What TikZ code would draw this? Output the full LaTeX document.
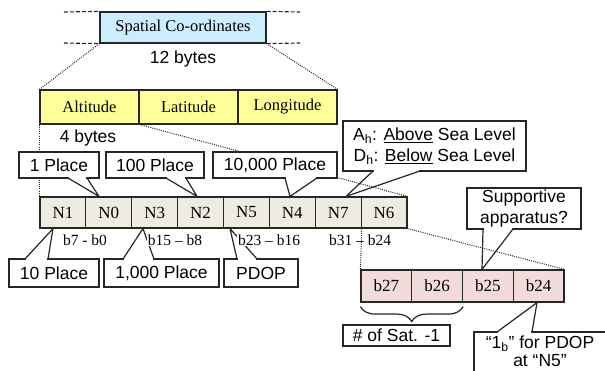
\documentclass[tikz,border=0pt]{standalone}
\usepackage{fontspec}
\setmainfont{Liberation Serif}
\newfontfamily\arialf{Liberation Sans}
\usetikzlibrary{decorations.pathreplacing,calc}
\definecolor{cblue}{HTML}{CCECFF}
\definecolor{cyel}{HTML}{FFFF99}
\definecolor{cgray}{HTML}{EEECE1}
\definecolor{cpink}{HTML}{F2DCDB}
\definecolor{cline}{HTML}{262626}
\newcommand\ctail[4]{% xL, xR, ybase, tip
  \fill[white] (#1+0.7,#3-1.1) rectangle (#2-0.7,#3+1.1);
  \draw[tailline] (#1,#3) -- (#4) -- (#2,#3);}
\begin{document}
\begin{tikzpicture}[x=1pt,y=-1pt,
  cellbase/.style={draw=cline, line width=1.2pt, inner sep=0pt},
  bluecell/.style={cellbase, fill=cblue, minimum width=166pt, minimum height=31pt, font=\fontsize{16.5}{18}\selectfont},
  yelcell/.style={cellbase, fill=cyel, minimum width=99pt, minimum height=34pt, font=\fontsize{16.5}{18}\selectfont},
  graycell/.style={cellbase, fill=cgray, minimum width=45.875pt, minimum height=31pt, font=\fontsize{17}{18}\selectfont},
  pinkcell/.style={cellbase, fill=cpink, minimum width=50.75pt, minimum height=32pt, font=\fontsize{17}{18}\selectfont},
  callout/.style={draw=cline, line width=1.2pt, fill=white, inner sep=0pt, align=center, font=\arialf\fontsize{17.5}{21}\selectfont},
  tailline/.style={draw=cline, line width=1.2pt, line join=miter},
  bytes/.style={inner sep=0pt, font=\arialf\fontsize{17.5}{21}\selectfont},
  blabel/.style={inner sep=1pt, fill=white, font=\fontsize{15.5}{18}\selectfont},
  dotline/.style={draw=cline, line width=1pt, dash pattern=on 1pt off 1.2pt},
  dashline/.style={draw=cline, line width=1.1pt, dash pattern=on 4pt off 2pt}]
\clip (0,0) rectangle (605,371);
\fill[white] (0,0) rectangle (605,371);

\coordinate (dl1) at (64,12);
\coordinate (dl2) at (64,43);
\coordinate (dr1) at (300,12);
\coordinate (dr2) at (300,43);

% top box
\node[bluecell] (spatial) at (183,27.5) {Spatial Co-ordinates};
\draw[dashline] (dl1) -- (spatial.north west);
\draw[dashline] (dl2) -- (spatial.south west);
\draw[dashline] (spatial.north east) -- (dr1);
\draw[dashline] (spatial.south east) -- (dr2);
\node[bytes] (b12) at (183,59) {12 bytes};

% yellow row
\node[yelcell] (alt) at (89.5,107) {Altitude};
\node[yelcell] (lat) at (188.5,107) {Latitude};
\node[yelcell] (lon) at (287.5,107) {Longitude};
\node[bytes] (b4) at (88,138) {4 bytes};

% gray row
\foreach \t [count=\i from 0] in {N1,N0,N3,N2,N5,N4,N7,N6}
  \node[graycell] (\t) at ({40+45.875*(\i+0.5)},212.5) {\t};

% pink row
\foreach \t [count=\i from 0] in {b27,b26,b25,b24}
  \node[pinkcell] (\t) at ({361+50.75*(\i+0.5)},286) {\t};

% dotted lines
\draw[dotline] (spatial.south west) -- (alt.north west);
\draw[dotline] (spatial.south east) -- (lon.north east);
\draw[dotline] (alt.south west) -- (N1.north west);
\draw[dotline] (alt.south east) -- (N6.north east);
\draw[dotline] (N6.south east) -- (b24.north east);

% top callouts
\node[callout, minimum width=80pt, minimum height=26pt] (p1) at (59,165) {1 Place};
\coordinate (t1) at (99,196.4);
\ctail{68}{87}{178}{t1}
\node[callout, minimum width=98pt, minimum height=26pt] (p100) at (155,165) {100 Place};
\coordinate (t100) at (197,196.4);
\ctail{166}{186}{178}{t100}
\node[callout, minimum width=124pt, minimum height=26pt] (p10000) at (275,165) {10,000 Place};
\coordinate (t10000) at (290,196.4);
\ctail{285}{317}{178}{t10000}
\node[callout, minimum width=183pt, minimum height=50pt] (ah) at (434.5,146)
  {A\textsubscript{h}: \underline{Above} Sea Level\\D\textsubscript{h}: \underline{Below} Sea Level};
\coordinate (tah) at (346,196.4);
\ctail{373}{420}{171}{tah}

% supportive
\node[callout, minimum width=114pt, minimum height=41pt] (sup) at (524,208.5) {Supportive\\apparatus?};
\coordinate (tsup) at (482,269.4);
\ctail{483}{513}{229}{tsup}

% bottom callouts
\node[callout, minimum width=90pt, minimum height=28pt] (p10) at (54,273) {10 Place};
\coordinate (t10) at (53,228.6);
\ctail{25}{48}{259}{t10}
\node[callout, minimum width=115pt, minimum height=28pt] (p1000) at (161.5,273) {1,000 Place};
\coordinate (t1000) at (143,228.6);
\ctail{123}{154}{259}{t1000}
\node[callout, minimum width=74pt, minimum height=28pt] (pdop) at (261,273) {PDOP};
\coordinate (tpdop) at (230,228.6);
\ctail{237}{257}{259}{tpdop}

% bit labels
\node[blabel] (l0) at (85,240) {b7 - b0};
\node[blabel] (l1) at (175,240) {b15 -- b8};
\node[blabel] (l2) at (269,240) {b23 -- b16};
\node[inner sep=1pt, font=\fontsize{15.5}{18}\selectfont] (l3) at (360,240) {b31 -- b24};
\draw[dotline] (N7.south east) -- (b27.north west);

% brace
\draw[draw=cline, line width=1.2pt, decorate, decoration={brace, amplitude=15pt, mirror}]
  ($(b27.south west)+(0,4)$) -- ($(b26.south east)+(0,4)$);
\node[callout, minimum width=107pt, minimum height=21pt] (sat) at (396.5,335.5) {\# of Sat. -1};

% 1b callout
\node[callout, minimum width=132pt, minimum height=46pt] (one) at (540,355) {};
\node[inner sep=0pt, align=center, font=\arialf\fontsize{17.5}{18}\selectfont] (onetext) at (540,351.5)
  {“1\textsubscript{b}” for PDOP\\at “N5”};
\coordinate (tone) at (537,302.6);
\ctail{497}{532}{332}{tone}
\end{tikzpicture}
\end{document}
